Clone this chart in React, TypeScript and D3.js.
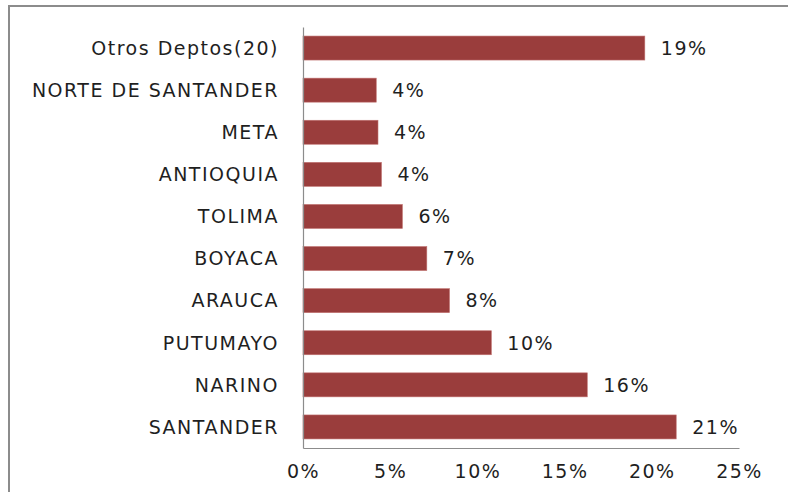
import React, { useEffect, useRef } from "react";
import * as d3 from "d3";

const categories = [
  "Otros Deptos(20)",
  "NORTE DE SANTANDER",
  "META",
  "ANTIOQUIA",
  "TOLIMA",
  "BOYACA",
  "ARAUCA",
  "PUTUMAYO",
  "NARINO",
  "SANTANDER",
];
const values = [19.6, 4.2, 4.3, 4.5, 5.7, 7.1, 8.4, 10.8, 16.3, 21.4];
const valueLabels = ["19%", "4%", "4%", "4%", "6%", "7%", "8%", "10%", "16%", "21%"];
const ticks = [0, 5, 10, 15, 20, 25];

const App: React.FC = () => {
  const ref = useRef<SVGSVGElement>(null);

  useEffect(() => {
    const svg = d3.select(ref.current);
    svg.selectAll("*").remove();

    const font = "'DejaVu Sans', Verdana, sans-serif";
    const textColor = "#1f1f1f";
    const left = 303;
    const right = 739;
    const top = 27;
    const bottom = 448;

    // chart frame (runs off the right and bottom edges)
    svg
      .append("rect")
      .attr("x", 9)
      .attr("y", 6)
      .attr("width", 800)
      .attr("height", 500)
      .attr("fill", "#fff")
      .attr("stroke", "#8c8c8c")
      .attr("stroke-width", 2);

    const x = d3.scaleLinear().domain([0, 25]).range([left, right]);
    const y = d3
      .scaleBand()
      .domain(categories)
      .range([top, bottom])
      .paddingInner(0.43)
      .paddingOuter(0.215);

    const data = categories.map((c, i) => ({ c, v: values[i], label: valueLabels[i] }));

    svg
      .append("g")
      .selectAll("rect")
      .data(data)
      .join("rect")
      .attr("x", x(0))
      .attr("y", (d) => y(d.c)!)
      .attr("width", (d) => x(d.v) - x(0))
      .attr("height", y.bandwidth())
      .attr("fill", "#9a3d3c")
      .attr("stroke", "#c07270")
      .attr("stroke-width", 0.6);

    // value labels
    svg
      .append("g")
      .selectAll("text")
      .data(data)
      .join("text")
      .attr("x", (d) => x(d.v) + 16)
      .attr("y", (d) => y(d.c)! + y.bandwidth() / 2)
      .attr("dy", "0.36em")
      .attr("font-family", font)
      .attr("font-size", 19)
      .attr("letter-spacing", 1.5)
      .attr("fill", textColor)
      .text((d) => d.label);

    // category axis
    const yAxis = svg.append("g").attr("transform", `translate(${left},0)`).call(d3.axisLeft(y).tickSize(0).tickPadding(24));
    yAxis.select(".domain").attr("stroke", "#8c8c8c").attr("stroke-width", 1.2);
    yAxis
      .selectAll("text")
      .attr("font-family", font)
      .attr("font-size", 19)
      .attr("letter-spacing", 1.5)
      .attr("fill", textColor)
      .attr("dy", "0.36em");

    // value axis
    const xAxis = svg
      .append("g")
      .attr("transform", `translate(0,${bottom})`)
      .call(
        d3
          .axisBottom(x)
          .tickValues(ticks)
          .tickSize(0)
          .tickPadding(17)
          .tickFormat((d) => `${d}%`)
      );
    xAxis.select(".domain").attr("stroke", "#8c8c8c").attr("stroke-width", 1.2);
    xAxis
      .selectAll("text")
      .attr("font-family", font)
      .attr("font-size", 19)
      .attr("letter-spacing", 1.5)
      .attr("fill", textColor);
  }, []);

  return (
    <svg
      ref={ref}
      width={788}
      height={492}
      style={{ position: "absolute", left: 0, top: 0, display: "block", background: "#fff" }}
    ></svg>
  );
};

export default App;
